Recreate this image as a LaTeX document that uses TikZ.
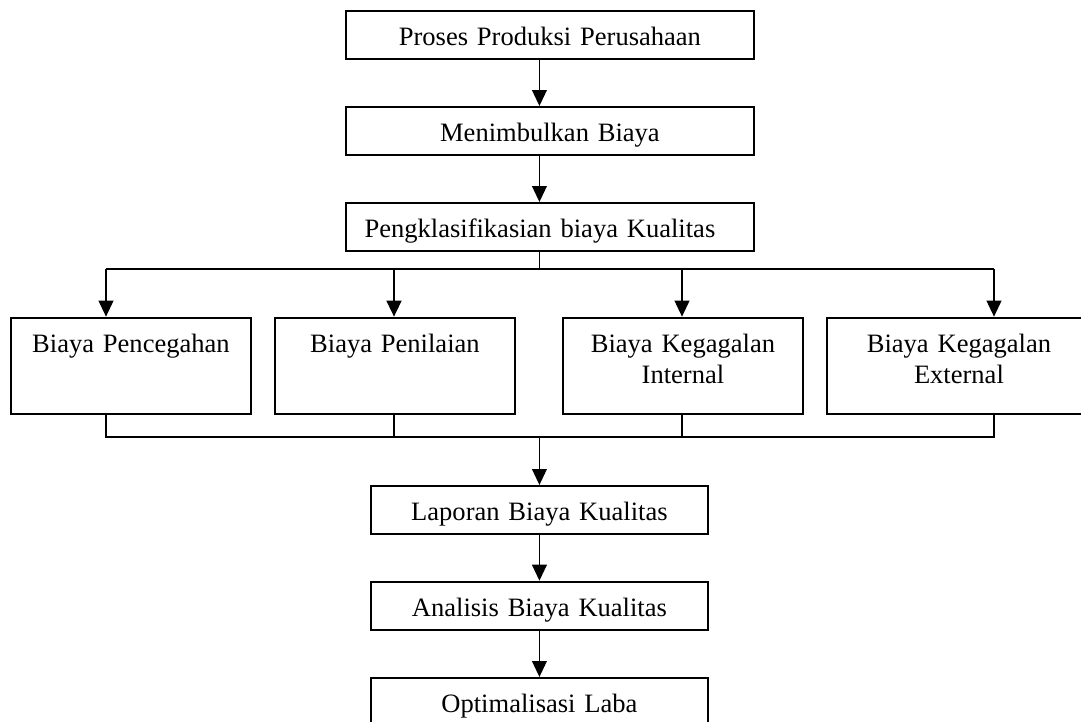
\documentclass[tikz,border=0pt]{standalone}
\usepackage{fontspec}
\setmainfont{Liberation Serif}
\usetikzlibrary{arrows.meta}

\begin{document}
\begin{tikzpicture}[x=0.75pt,y=-0.75pt,line width=1.4pt,
	font=\fontsize{19.9pt}{23.25pt}\selectfont,
	box/.style={draw,anchor=north west,inner xsep=0pt,inner ysep=0pt,
		align=center,text height=26.25pt,text depth=9.75pt},
	wide/.style={box,text width=306pt},
	slim/.style={box,text width=252.75pt},
	cost/.style={box,text width=180pt,text depth=45.95pt},
	arr/.style={-{Triangle[length=12pt,width=11pt]}}]
	\useasboundingbox (0,0) rectangle (1081,721);
	\clip (0,0) rectangle (1081,721);
	% alur atas
	\node[wide] (proses) at (345,10) {Proses Produksi Perusahaan};
	\node[wide] (timbul) at (345,106) {Menimbulkan Biaya};
	\node[wide] (klas) at (345,202) {\mbox{Pengklasifikasian biaya Kualitas\hspace{15pt}}};
	% empat jenis biaya
	\node[cost] (cegah) at (10,316.7) {Biaya Pencegahan};
	\node[cost] (nilai) at (274,316.7) {Biaya Penilaian};
	\node[cost] (intern) at (562,316.7) {Biaya Kegagalan\\Internal};
	\node[cost,text width=198pt] (extern) at (826,316.7) {Biaya Kegagalan\\External};
	% alur bawah
	\node[slim] (lapor) at (370,485) {Laporan Biaya Kualitas};
	\node[slim] (analisis) at (370,580.7) {Analisis Biaya Kualitas};
	\node[slim] (laba) at (370,677) {Optimalisasi Laba};

	\coordinate (d1) at (106,269.3);
	\coordinate (d2) at (394,269.3);
	\coordinate (d3) at (682,269.3);
	\coordinate (d4) at (994,269.3);
	\coordinate (u1) at (106,436.7);
	\coordinate (u2) at (394,436.7);
	\coordinate (u3) at (682,436.7);
	\coordinate (u4) at (994,436.7);

	\draw[arr] (proses.south -| lapor) -- (timbul.north -| lapor);
	\draw[arr] (timbul.south -| lapor) -- (klas.north -| lapor);
	\draw (klas.south -| lapor) -- (d1 -| lapor);
	\draw (d1) -- (d4);
	\draw[arr] (d1) -- (cegah.north -| d1);
	\draw[arr,line width=1.8pt] (d2) -- (nilai.north -| d2);
	\draw[arr] (d3) -- (intern.north -| d3);
	\draw[arr] (d4) -- (extern.north -| d4);

	\draw (cegah.south -| u1) -- (u1) -- (u4) -- (extern.south -| u4);
	\draw (nilai.south -| u2) -- (u2);
	\draw (intern.south -| u3) -- (u3);
	\draw[arr] (u1 -| lapor) -- (lapor.north);
	\draw[arr] (lapor) -- (analisis);
	\draw[arr] (analisis) -- (laba);
\end{tikzpicture}
\end{document}
